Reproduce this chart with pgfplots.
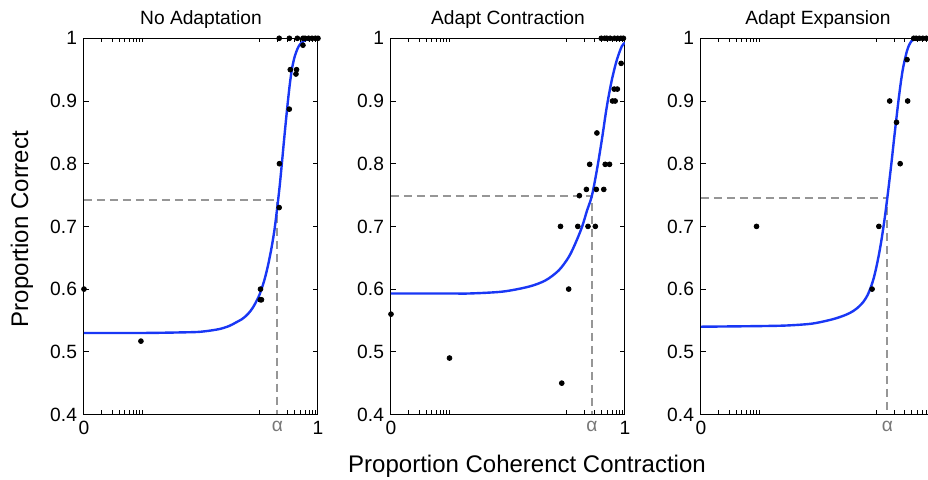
\documentclass[border=0pt]{standalone}
\usepackage{fontspec}
\setmainfont{Liberation Sans}
\usepackage{pgfplots}
\pgfplotsset{compat=1.18}

\definecolor{fitblue}{RGB}{25,55,245}
\definecolor{dashgray}{RGB}{150,150,150}
\definecolor{alphagray}{RGB}{120,120,120}

% shared look of the three panels (1px of the reference = 0.5pt)
\pgfplotsset{
  mypanel/.style={
    scale only axis, width=117pt, height=188.1pt,
    anchor=south west,
    xmin=1e-4, xmax=1, ymin=0.4, ymax=1,
    ytick={0.4,0.5,0.6,0.7,0.8,0.9,1},
    minor xtick={0.0002,0.0003,0.0004,0.0005,0.0006,0.0007,0.0008,0.0009,0.001,
                 0.1,0.2,0.3,0.4,0.5,0.6,0.7,0.8,0.9},
    major x tick style={draw=none},
    major tick length=2.5pt, minor tick length=2pt,
    tick align=inside,
    tick style={black, line width=0.4pt},
    axis line style={line width=0.5pt},
    tick label style={font=\fontsize{9.6}{11}\selectfont},
    title style={at={(0.5,1)}, anchor=base, yshift=1pt,
                 font=\fontsize{9.6}{11}\selectfont},
  },
  myfit/.style={fitblue, line width=1.2pt, smooth, no marks},
  myguide/.style={dashgray, line width=1pt, dash pattern=on 4pt off 2.5pt, no marks},
  myobs/.style={only marks, mark=*, mark size=1.2pt, black},
}

\begin{document}
\begin{tikzpicture}

% --- No Adaptation
\begin{axis}[xmode=log, mypanel, /pgf/number format/assume math mode=true,
  at={(42pt,32.75pt)}, title={No Adaptation},
  xtick={0.0001,0.203,1}, xticklabels={0,\textcolor{alphagray}{α},1}]
\addplot[myguide] coordinates {(0.0001,0.742) (0.203,0.742) (0.203,0.4)};
\addplot[myfit] coordinates {
  (0.0001,0.530) (0.001,0.530) (0.005,0.531) (0.01,0.532) (0.02,0.536)
  (0.03,0.541) (0.04,0.547) (0.05,0.552) (0.06,0.558) (0.07,0.565)
  (0.08,0.573) (0.09,0.582) (0.1,0.591) (0.12,0.613) (0.14,0.638)
  (0.16,0.665) (0.18,0.694) (0.2,0.728) (0.22,0.762) (0.24,0.798)
  (0.26,0.833) (0.28,0.864) (0.3,0.892) (0.33,0.927) (0.36,0.952)
  (0.4,0.971) (0.45,0.984) (0.5,0.991) (0.6,0.997) (0.7,0.999) (0.85,1) (1,1)};
\addplot[myobs] coordinates {
  (0.0001,0.6) (0.00094,0.517) (0.104,0.6) (0.103,0.583) (0.108,0.583)
  (0.217,0.73) (0.219,0.8) (0.323,0.887) (0.336,0.95) (0.42,0.943) (0.43,0.95)
  (0.553,0.989) (0.217,1) (0.324,1) (0.444,1) (0.553,1) (0.6,1) (0.69,1)
  (0.79,1) (0.9,1) (1,1)};
\end{axis}

% --- Adapt Contraction
\begin{axis}[xmode=log, mypanel, /pgf/number format/assume math mode=true,
  at={(195.5pt,32.75pt)}, title={Adapt Contraction},
  xtick={0.0001,0.272,1}, xticklabels={0,\textcolor{alphagray}{α},1}]
\addplot[myguide] coordinates {(0.0001,0.749) (0.272,0.749) (0.272,0.4)};
\addplot[myfit] coordinates {
  (0.0001,0.593) (0.001,0.593) (0.0022,0.593) (0.0081,0.596) (0.0229,0.604)
  (0.044,0.614) (0.074,0.630) (0.109,0.651) (0.142,0.673) (0.184,0.699)
  (0.224,0.725) (0.272,0.749) (0.331,0.790) (0.402,0.838) (0.489,0.891)
  (0.594,0.933) (0.723,0.965) (0.879,0.987) (1,0.993)};
\addplot[myobs] coordinates {
  (0.0001,0.56) (0.001,0.49) (0.083,0.45) (0.079,0.70) (0.109,0.60)
  (0.156,0.70) (0.233,0.70) (0.311,0.70) (0.166,0.749) (0.219,0.759)
  (0.323,0.759) (0.434,0.759) (0.249,0.799) (0.459,0.799) (0.544,0.799)
  (0.331,0.849) (0.612,0.90) (0.679,0.90) (0.653,0.919) (0.74,0.919)
  (0.859,0.96) (0.393,1) (0.45,1) (0.489,1) (0.558,1) (0.661,1) (0.752,1)
  (0.85,1) (0.94,1)};
\end{axis}

% --- Adapt Expansion (its right edge runs past the picture, as in the original)
\begin{axis}[xmode=log, mypanel, /pgf/number format/assume math mode=true,
  at={(350.5pt,32.75pt)}, title={Adapt Expansion},
  xtick={0.0001,0.153}, xticklabels={0,\textcolor{alphagray}{α}}]
\addplot[myguide] coordinates {(0.0001,0.745) (0.153,0.745) (0.153,0.4)};
\addplot[myfit] coordinates {
  (0.0001,0.540) (0.001,0.541) (0.003,0.542) (0.008,0.545) (0.018,0.552)
  (0.03,0.559) (0.04,0.565) (0.05,0.572) (0.06,0.580) (0.07,0.590)
  (0.08,0.603) (0.09,0.618) (0.10,0.636) (0.11,0.655) (0.12,0.675)
  (0.13,0.696) (0.14,0.717) (0.15,0.739) (0.16,0.760) (0.18,0.801)
  (0.20,0.840) (0.22,0.874) (0.24,0.904) (0.26,0.929) (0.28,0.949)
  (0.30,0.963) (0.33,0.979) (0.36,0.989) (0.40,0.996) (0.45,0.999)
  (0.55,1) (1,1)};
\addplot[myobs] coordinates {
  (0.00089,0.70) (0.0841,0.60) (0.1097,0.70) (0.254,0.80) (0.220,0.866)
  (0.168,0.90) (0.341,0.90) (0.333,0.966) (0.433,1) (0.476,1) (0.54,1)
  (0.62,1) (0.71,1) (0.8,1)};
\end{axis}

\node[rotate=90, font=\fontsize{12}{14}\selectfont] at (11pt,125.5pt) {Proportion Correct};
\node[font=\fontsize{12}{14}\selectfont] at (263.5pt,7pt) {Proportion Coherenct Contraction};

\pgfresetboundingbox
\useasboundingbox (0,0) rectangle (464pt,240pt);
\end{tikzpicture}
\end{document}
